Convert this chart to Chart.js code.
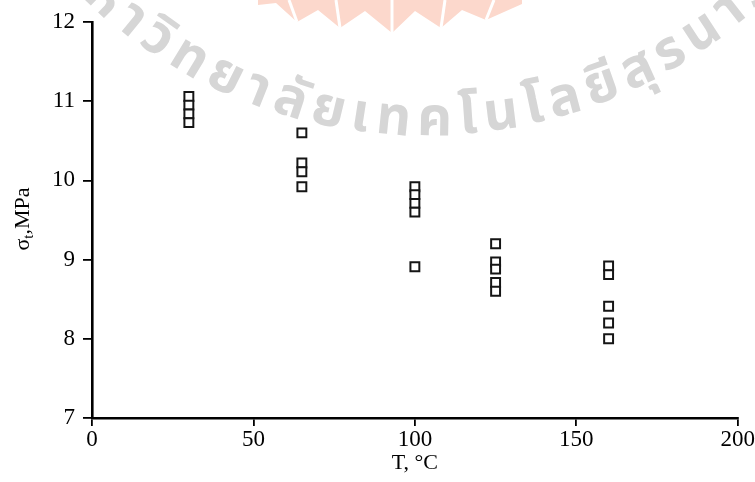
<!DOCTYPE html>
<html>
<head>
<meta charset="utf-8">
<title>Tensile strength vs temperature</title>
<script src="https://cdn.jsdelivr.net/npm/chart.js@4.4.1/dist/chart.umd.min.js"></script>
<style>
  html, body { margin: 0; padding: 0; background: #ffffff; }
  #wrap { width: 755px; height: 482px; position: relative; }
</style>
</head>
<body>
<div id="wrap"><canvas id="chart" width="755" height="482"></canvas></div>
<script>
// Test temperatures (°C) and the measured strengths at each one (MPa)
const temperatureC = [30, 65, 100, 125, 160];
const strengthAt30 = [11.06, 10.95, 10.84, 10.73];
const strengthAt65 = [10.6, 10.22, 10.11, 9.92];
const strengthAt100 = [9.92, 9.82, 9.71, 9.6, 8.91];
const strengthAt125 = [9.2, 8.97, 8.88, 8.71, 8.6];
const strengthAt160 = [8.92, 8.81, 8.41, 8.2, 8.0];
const xTicks = [0, 50, 100, 150, 200];
const yTicks = [7, 8, 9, 10, 11, 12];

const strengthGroups = [strengthAt30, strengthAt65, strengthAt100, strengthAt125, strengthAt160];
const points = [];
strengthGroups.forEach((group, i) => {
  group.forEach(v => points.push({ x: temperatureC[i], y: v }));
});

const serif = "'Liberation Serif', 'Times New Roman', serif";

// Faint university seal and name behind the plot
const watermark = {
  id: 'watermark',
  beforeDraw(chart) {
    const ctx = chart.ctx;
    ctx.save();
    // flag-like crest at the top edge
    ctx.fillStyle = '#fcd8cc';
    ctx.beginPath();
    ctx.moveTo(258, 0);
    ctx.lineTo(522, 0);
    ctx.lineTo(522, 4);
    ctx.lineTo(486, 20);
    ctx.lineTo(462, 10);
    ctx.lineTo(441, 28);
    ctx.lineTo(415, 11);
    ctx.lineTo(392, 33);
    ctx.lineTo(365, 11);
    ctx.lineTo(340, 28);
    ctx.lineTo(318, 10);
    ctx.lineTo(297, 22);
    ctx.lineTo(276, 3);
    ctx.lineTo(258, 5);
    ctx.closePath();
    ctx.fill();
    ctx.strokeStyle = '#ffffff';
    ctx.lineWidth = 3;
    [[297, 22, -8], [340, 28, -4], [392, 33, 0], [441, 28, 4], [486, 20, 8]].forEach(([x, y, d]) => {
      ctx.beginPath();
      ctx.moveTo(x + d, 0);
      ctx.lineTo(x, y);
      ctx.stroke();
    });

    // name set along an arc below the crest
    const clusters = ['ม','ห','า','วิ','ท','ย','า','ลั','ย','เ','ท','ค','โ','น','โ','ล','ยี','สุ','ร','น','า','รี'];
    const cx = 425, cy = -360, R = 495;
    ctx.font = "bold 54px 'Noto Sans Thai', 'Noto Sans Thai UI', 'Loma', 'Garuda', 'Sarabun', sans-serif";
    ctx.fillStyle = '#d6d6d6';
    ctx.textBaseline = 'alphabetic';
    ctx.textAlign = 'left';
    const widths = clusters.map(c => ctx.measureText(c).width);
    let span = 0;
    for (let i = 1; i <= 20; i++) span += widths[i];
    const startA = Math.asin((82 - cx) / R);
    const endA = Math.asin((748 - cx) / R);
    const gap = ((endA - startA) * R - span) / 19;
    let s = startA * R - widths[0] - gap;
    clusters.forEach((c, i) => {
      const a = s / R;
      ctx.save();
      ctx.translate(cx + R * Math.sin(a), cy + R * Math.cos(a));
      ctx.rotate(-a);
      ctx.fillText(c, 0, 0);
      ctx.restore();
      s += widths[i] + gap;
    });
    ctx.restore();
  }
};

// Rotated y-axis title with a subscript t
const yTitle = {
  id: 'yTitle',
  afterDraw(chart) {
    const ctx = chart.ctx;
    ctx.save();
    ctx.translate(29, 219);
    ctx.rotate(-Math.PI / 2);
    ctx.fillStyle = '#000';
    ctx.textBaseline = 'alphabetic';
    ctx.textAlign = 'left';
    const big = '22px ' + serif, small = '15px ' + serif;
    ctx.font = big;
    const w1 = ctx.measureText('σ').width;
    ctx.font = small;
    const w2 = ctx.measureText('t').width;
    ctx.font = big;
    const w3 = ctx.measureText(',MPa').width;
    let x = -(w1 + w2 + w3) / 2;
    ctx.fillText('σ', x, 0);
    x += w1;
    ctx.font = small;
    ctx.fillText('t', x, 4);
    x += w2;
    ctx.font = big;
    ctx.fillText(',MPa', x, 0);
    ctx.restore();
  }
};

new Chart(document.getElementById('chart'), {
  type: 'scatter',
  data: {
    datasets: [{
      data: points,
      pointStyle: 'rect',
      pointRadius: 6.3,
      pointHoverRadius: 6.3,
      pointBackgroundColor: '#ffffff',
      pointBorderColor: '#151515',
      pointBorderWidth: 2,
      showLine: false
    }]
  },
  options: {
    responsive: false,
    devicePixelRatio: 1,
    animation: false,
    events: [],
    layout: { autoPadding: false, padding: { left: 0, right: 13, top: 22, bottom: 0 } },
    plugins: { legend: { display: false }, tooltip: { enabled: false } },
    scales: {
      x: {
        type: 'linear',
        min: 0,
        max: 200,
        afterFit(scale) { scale.height = 64; },
        afterBuildTicks(scale) { scale.ticks = xTicks.map(v => ({ value: v })); },
        ticks: { color: '#000', font: { family: serif, size: 23 }, padding: 0, maxRotation: 0 },
        grid: { drawOnChartArea: false, drawTicks: true, tickLength: 8, color: '#000', lineWidth: 1.8 },
        border: { display: true, color: '#000', width: 2.6 },
        title: { display: true, text: 'T, °C', color: '#000', font: { family: serif, size: 22 }, padding: { top: 0, bottom: 6 } }
      },
      y: {
        type: 'linear',
        min: 7,
        max: 12,
        afterFit(scale) { scale.width = 92; },
        afterBuildTicks(scale) { scale.ticks = yTicks.map(v => ({ value: v })); },
        ticks: { color: '#000', font: { family: serif, size: 23 }, padding: 8 },
        grid: { drawOnChartArea: false, drawTicks: true, tickLength: 9, color: '#000', lineWidth: 1.8 },
        border: { display: true, color: '#000', width: 2.6 }
      }
    }
  },
  plugins: [watermark, yTitle]
});
</script>
</body>
</html>
